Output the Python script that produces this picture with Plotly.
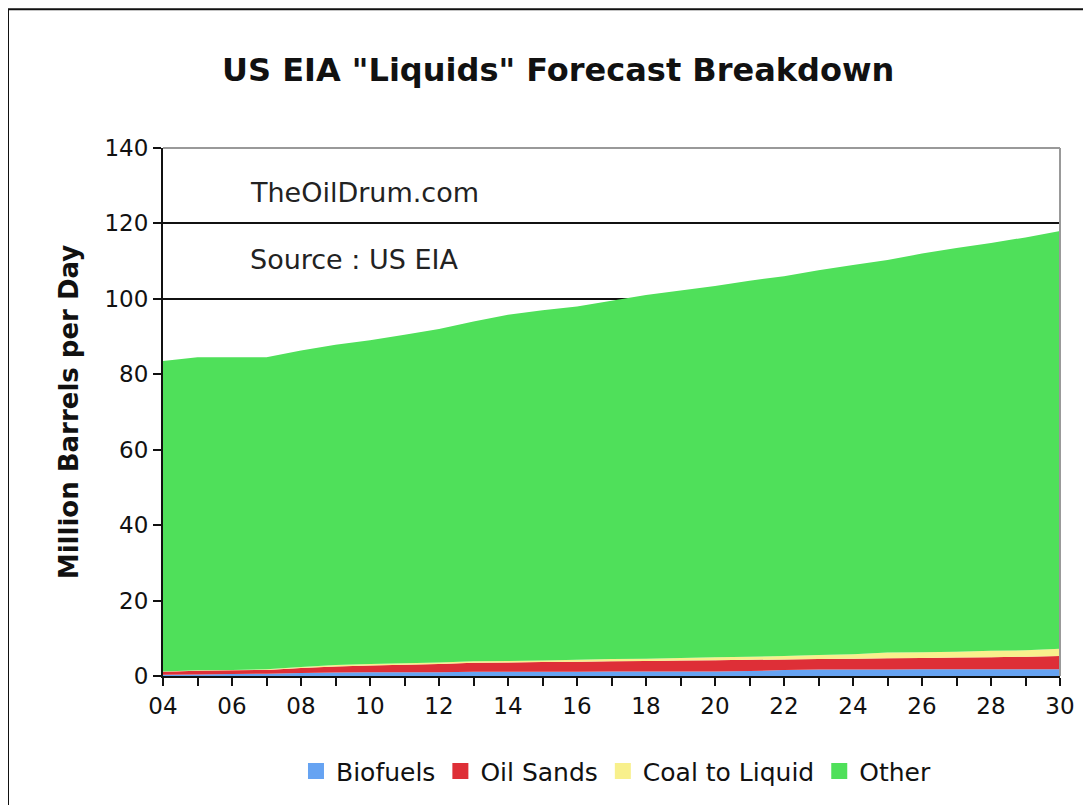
"""US EIA liquids forecast breakdown - stacked area chart."""

import plotly.graph_objects as go

_FONT = dict(family="Verdana, DejaVu Sans, sans-serif", color="#111111")

years = list(range(2004, 2031))
tick_text = [f"{y % 100:02d}" if y % 2 == 0 else "" for y in years]

biofuels = [0.3, 0.4, 0.5, 0.6, 0.8, 0.9, 1.0, 1.0, 1.0, 1.1, 1.1, 1.1, 1.1, 1.2,
            1.2, 1.2, 1.2, 1.3, 1.6, 1.7, 1.7, 1.7, 1.8, 1.8, 1.8, 1.8, 1.8]
oil_sands = [0.8, 1.0, 1.0, 1.0, 1.3, 1.6, 1.8, 2.0, 2.2, 2.4, 2.5, 2.6, 2.7, 2.7,
             2.8, 2.9, 3.0, 3.0, 2.8, 2.8, 2.9, 3.0, 3.0, 3.1, 3.2, 3.3, 3.5]
coal_to_liquid = [0.1, 0.1, 0.1, 0.2, 0.3, 0.4, 0.4, 0.4, 0.4, 0.4, 0.4, 0.4, 0.5, 0.6,
                  0.6, 0.7, 0.8, 0.8, 0.9, 1.1, 1.2, 1.5, 1.5, 1.5, 1.7, 1.7, 1.9]
other = [82.3, 83.0, 82.9, 82.7, 83.9, 84.9, 85.8, 87.1, 88.4, 90.1, 91.8, 92.9, 93.7,
         95.0, 96.4, 97.4, 98.4, 99.7, 100.7, 102.0, 103.2, 104.1, 105.7, 107.1,
         108.1, 109.5, 110.8]

series = [
    ("Biofuels", biofuels, "#66a3f2"),
    ("Oil Sands", oil_sands, "#de2f37"),
    ("Coal to Liquid", coal_to_liquid, "#f8f08c"),
    ("Other", other, "#4fe05a"),
]

fig = go.Figure()
for name, vals, color in series:
    fig.add_trace(go.Scatter(
        x=years, y=vals, name=name, stackgroup="one", mode="none",
        fillcolor=color, showlegend=False,
    ))
# legend swatches as squares
for name, vals, color in series:
    fig.add_trace(go.Scatter(
        x=[None], y=[None], name=name, mode="markers",
        marker=dict(symbol="square", size=21, color=color),
    ))

# page body has an 8px margin, so the figure is drawn 8px smaller
fig.update_layout(
    width=1083, height=797,
    font=_FONT,
    paper_bgcolor="white", plot_bgcolor="white",
    margin=dict(l=155, r=31, t=140, b=128),
    title=dict(
        text='<b>US EIA "Liquids" Forecast Breakdown</b>',
        x=0.508, xanchor="center", y=0.923, yanchor="middle",
        font=dict(size=32, family="Verdana, DejaVu Sans, sans-serif", color="#111"),
    ),
    legend=dict(
        orientation="h", traceorder="normal",
        x=0.505, xanchor="center", y=-0.178, yanchor="middle",
        font=dict(size=25), itemwidth=30, tracegroupgap=0,
    ),
    annotations=[
        dict(text="TheOilDrum.com", xref="paper", yref="paper", x=0.0948, y=0.915,
             xanchor="left", yanchor="middle", showarrow=False,
             font=dict(size=27, color="#222")),
        dict(text="Source : US EIA", xref="paper", yref="paper", x=0.0948, y=0.788,
             xanchor="left", yanchor="middle", showarrow=False,
             font=dict(size=27, color="#222")),
    ],
    shapes=[
        dict(type="line", xref="paper", yref="paper", x0=0, x1=1, y0=1, y1=1,
             line=dict(color="#999999", width=2)),
        dict(type="line", xref="paper", yref="paper", x0=1, x1=1, y0=0, y1=1,
             line=dict(color="#999999", width=2)),
        dict(type="rect", xref="paper", yref="paper", x0=-0.1728, x1=1.2,
             y0=-0.4, y1=1.2628, line=dict(color="#111111", width=2)),
    ],
)

fig.update_xaxes(
    range=[2004, 2030], tickvals=years, ticktext=tick_text,
    showgrid=False, showline=True, linecolor="#111", linewidth=2,
    ticks="outside", ticklen=8, tickwidth=1.5, tickcolor="#111",
    tickfont=dict(size=23), zeroline=False,
)
fig.update_yaxes(
    range=[0, 140], dtick=20,
    showgrid=True, gridcolor="#111111", gridwidth=1.5,
    showline=True, linecolor="#111", linewidth=2,
    ticks="outside", ticklen=8, tickwidth=1.5, tickcolor="#111",
    tickfont=dict(size=23), zeroline=False,
    title=dict(text="<b>Million Barrels per Day</b>", font=dict(size=26), standoff=18),
)

fig.write_html("out.html")
